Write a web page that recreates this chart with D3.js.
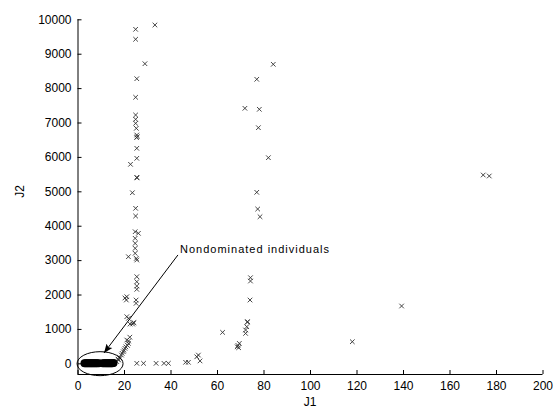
<!DOCTYPE html>
<html>
<head>
<meta charset="utf-8">
<script src="https://cdn.jsdelivr.net/npm/d3@7"></script>
<style>
  body { margin: 0; background: #fff; }
  text { font-family: "Liberation Sans", Arial, sans-serif; fill: #000; }
</style>
</head>
<body>
<div id="graph"></div>
<script>
var width = 555, height = 409

// dominated individuals (J1, J2)
var domJ1 = [25.0, 25.0, 33.3, 29.0, 25.5, 25.0, 25.0, 25.0, 25.0, 25.3, 25.5, 25.7, 25.4, 25.5, 25.5, 22.8, 25.5, 25.6, 23.6,
  25.0, 25.0, 24.8, 26.2, 24.8, 24.8, 24.8, 24.8, 25.5, 25.3, 21.9, 25.5, 25.5, 25.5, 25.5, 25.2, 25.2, 21.2, 21.0, 21.2, 21.9,
  22.6, 23.7, 24.3, 21.2, 21.9, 20.4, 19.7, 18.9, 18.3, 17.6, 16.9, 22.5, 21.5, 20.8, 19.2, 18.0, 17.5, 20.0, 22.0, 20.4, 24.0,
  25.5, 28.4, 33.8, 37.2, 39.1, 46.5, 47.7, 51.3, 52.0, 52.7,
  62.4, 68.7, 69.6, 69.3, 69.0, 72.3, 72.3, 72.8, 73.2, 74.2, 74.4, 74.4, 73.0, 118.2, 139.4,
  84.2, 77.1, 72.0, 78.2, 77.8, 82.1, 77.1, 77.5, 78.5, 174.5, 177.1]
var domJ2 = [9709, 9419, 9834, 8709, 8273, 7733, 7218, 7093, 6977, 6831, 6637, 6587, 6560, 6250, 5959, 5785, 5407, 5390, 4959,
  4506, 4282, 3826, 3779, 3634, 3488, 3343, 3198, 3003, 3050, 3099, 2518, 2372, 2247, 2151, 1840, 1744, 1936, 1840, 1355, 1308,
  1142, 1142, 1180, 677, 580, 436, 337, 240, 145, 97, 49, 760, 520, 480, 290, 180, 120, 380, 650, 1900, 1180,
  0, 0, 0, 0, 0, 30, 30, 190, 240, 70,
  900, 480, 580, 455, 520, 870, 968, 1064, 1209, 1840, 2489, 2392, 1200, 628, 1666,
  8692, 8256, 7413, 7384, 6849, 5977, 4971, 4485, 4262, 5474, 5445]

// nondominated individuals
var ndJ1 = [3, 3.5, 4, 4.5, 5, 5.5, 6, 6.5, 7, 7.5, 8, 8.5, 9.2, 10.8, 11.4, 12, 12.5, 13, 13.5, 14, 14.5, 15, 15.5]
var ndJ2 = [0, 0, 0, 0, 0, 0, 0, 0, 0, 0, 0, 0, 0, 0, 0, 0, 0, 0, 0, 0, 0, 0, 10]

var xTicks = [0, 20, 40, 60, 80, 100, 120, 140, 160, 180, 200]
var yTicks = [0, 1000, 2000, 3000, 4000, 5000, 6000, 7000, 8000, 9000, 10000]

var note = {text: 'Nondominated individuals', tail: [43.2, 3150], head: [11.4, 300], at: [44.1, 3200]}

var x = d3.scaleLinear().domain([0, 200]).range([77.5, 542.5])
var y = d3.scaleLinear().domain([-310, 10000]).range([374, 19.3])

var svg = d3.select('#graph').append('svg')
    .attr('width', width).attr('height', height)

svg.append('rect').attr('width', width).attr('height', height).attr('fill', '#fff')

// axes, MATLAB style: inward ticks, no box
var xAxis = svg.append('g').attr('transform', 'translate(0,374)')
    .call(d3.axisBottom(x).tickValues(xTicks).tickFormat(d3.format('d')).tickSizeInner(-4).tickSizeOuter(0).tickPadding(7))
var yAxis = svg.append('g').attr('transform', 'translate(77.5,0)')
    .call(d3.axisLeft(y).tickValues(yTicks).tickFormat(d3.format('d')).tickSizeInner(-4).tickSizeOuter(0).tickPadding(6))

svg.selectAll('.domain').attr('stroke', '#000')
svg.selectAll('.tick line').attr('stroke', '#000')
svg.selectAll('.tick text').attr('font-size', 12).style('font-family', '"Liberation Sans", Arial, sans-serif')
yAxis.select('.domain').attr('d', 'M0.5,' + y(10000) + 'V374.5')
xAxis.select('.domain').attr('d', 'M' + x(0) + ',0.5H' + x(200))

svg.append('text').attr('x', x(100)).attr('y', 406).attr('text-anchor', 'middle')
    .attr('font-size', 12).text('J1')
svg.append('text').attr('transform', 'translate(24,' + y(5000) + ') rotate(-90)')
    .attr('text-anchor', 'middle').attr('font-size', 12).text('J2')

// x markers
var dom = domJ1.map(function(d, i){ return [d, domJ2[i]] })
var s = 2.3
svg.append('g').selectAll('path').data(dom).enter().append('path')
    .attr('d', function(d){
      var cx = x(d[0]), cy = y(d[1])
      return 'M' + (cx - s) + ',' + (cy - s) + 'L' + (cx + s) + ',' + (cy + s) +
             'M' + (cx - s) + ',' + (cy + s) + 'L' + (cx + s) + ',' + (cy - s)
    })
    .attr('stroke', '#333').attr('stroke-width', 0.9).attr('fill', 'none')

// nondominated cluster
var nd = ndJ1.map(function(d, i){ return [d, ndJ2[i]] })
svg.append('g').selectAll('circle').data(nd).enter().append('circle')
    .attr('cx', function(d){ return x(d[0]) })
    .attr('cy', function(d){ return y(d[1]) })
    .attr('r', 4).attr('fill', '#000')

svg.append('ellipse')
    .attr('cx', x(9.7)).attr('cy', y(-10))
    .attr('rx', 23).attr('ry', 12)
    .attr('fill', 'none').attr('stroke', '#000').attr('stroke-width', 1)

// annotation arrow
svg.append('defs').append('marker')
    .attr('id', 'head').attr('viewBox', '0 0 10 10').attr('refX', 10).attr('refY', 5)
    .attr('markerWidth', 9).attr('markerHeight', 9).attr('orient', 'auto')
  .append('path').attr('d', 'M0,1L10,5L0,9L2,5Z').attr('fill', '#000')

svg.append('line')
    .attr('x1', x(note.tail[0])).attr('y1', y(note.tail[1]))
    .attr('x2', x(note.head[0])).attr('y2', y(note.head[1]))
    .attr('stroke', '#000').attr('stroke-width', 1)
    .attr('marker-end', 'url(#head)')

svg.append('text').attr('x', x(note.at[0])).attr('y', y(note.at[1]))
    .attr('font-size', 11).attr('letter-spacing', 1).text(note.text)
</script>
</body>
</html>
